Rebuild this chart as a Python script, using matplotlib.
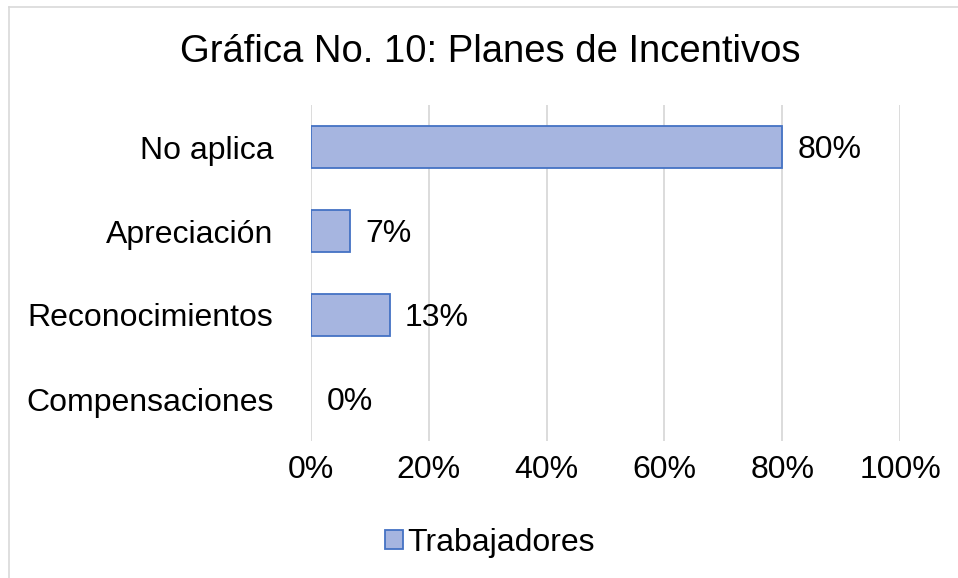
import matplotlib
matplotlib.use("Agg")
import matplotlib.pyplot as plt
from matplotlib.lines import Line2D
from matplotlib.patches import Patch
import numpy as np

categories = ["Compensaciones", "Reconocimientos", "Apreciación", "No aplica"]
values = [0.0, 2/15, 1/15, 12/15]
series_name = "Trabajadores"
title = "Gráfica No. 10: Planes de Incentivos"
xticks = [0, 0.2, 0.4, 0.6, 0.8, 1.0]

plt.rcParams['font.family'] = ['Liberation Sans', 'DejaVu Sans']

fig = plt.figure(figsize=(9.58, 5.78), dpi=100)
ax = fig.add_axes([311/958, 137/578, 589/958, 336/578])

y = np.arange(len(categories))
face = "#A6B5E0"
edge = "#4472C4"
lws = [1.3 if v > 0 else 0 for v in values]
ax.barh(y, values, height=0.5, color=face, edgecolor=edge, linewidth=lws, zorder=3)

FS = 23
for yi, v in zip(y, values):
    ax.text(v + 0.026, yi, f"{round(v*100):.0f}%", va="center_baseline", ha="left", fontsize=FS, color="#000000")

ax.set_xlim(0, 1.0)
ax.set_ylim(-0.5, 3.5)
ax.set_xticks(xticks)
ax.set_xticklabels([f"{int(t*100)}%" for t in xticks], fontsize=FS)
ax.set_yticks(y)
ax.set_yticklabels(categories, fontsize=FS)
ax.tick_params(axis='both', length=0)
ax.tick_params(axis='x', pad=10)
ax.tick_params(axis='y', pad=27)
ax.grid(axis='x', color="#D9D9D9", linewidth=1.3, zorder=0)
ax.set_axisbelow(True)
for s in ax.spines.values():
    s.set_visible(False)

fig.text(490/958, 1 - 52/578, title, ha="center", va="center", fontsize=27.5)

leg = fig.legend(handles=[Patch(facecolor=face, edgecolor=edge, linewidth=1.3, label=series_name)],
                 loc="center", bbox_to_anchor=(490/958, 1 - 543/578), frameon=False,
                 fontsize=FS, handlelength=0.55, handleheight=0.55, handletextpad=0.15)

# chart border
fig.add_artist(Line2D([9/958, 1], [1 - 7/578, 1 - 7/578], color="#D9D9D9", linewidth=1.2, transform=fig.transFigure))
fig.add_artist(Line2D([9/958, 9/958], [0, 1 - 7/578], color="#D9D9D9", linewidth=1.2, transform=fig.transFigure))

fig.savefig("out.png", dpi=100, facecolor="white")
